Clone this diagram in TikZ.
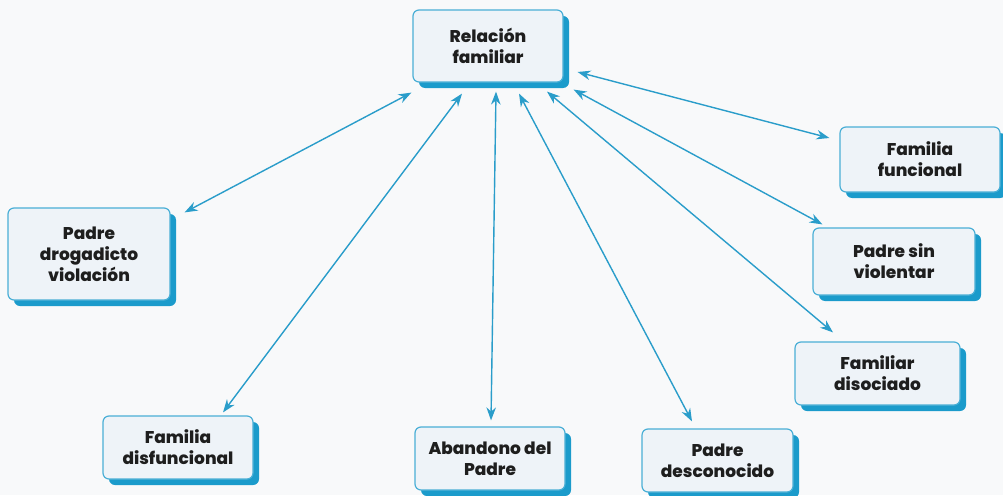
\documentclass[tikz,border=0pt]{standalone}
\usepackage{fontspec}
\setmainfont{Poppins}[BoldFont={* ExtraBold}]
\usetikzlibrary{arrows.meta,shadows}
\definecolor{bgc}{HTML}{F8F9FA}
\definecolor{boxfill}{HTML}{EEF3F8}
\definecolor{boxline}{HTML}{4AAFD6}
\definecolor{shadowc}{HTML}{1B9BCB}
\definecolor{linec}{HTML}{2A9DCA}
\definecolor{txt}{HTML}{1E1E1E}
\tikzset{
  box/.style={rectangle, rounded corners=6pt, draw=boxline, line width=1.2pt,
    fill=boxfill, align=center, inner sep=2pt, text=txt,
    font=\fontsize{17}{21}\selectfont\bfseries,
    drop shadow={shadow xshift=6pt, shadow yshift=-6pt, fill=shadowc, opacity=1}},
  conn/.style={draw=linec, line width=1.4pt,
    {Stealth[length=13pt,width=9.5pt]}-{Stealth[length=13pt,width=9.5pt]}}
}
\begin{document}
\begin{tikzpicture}[x=1pt,y=-1pt]
\fill[bgc] (0,0) rectangle (1003,495);
\useasboundingbox (0,0) rectangle (1003,495);

\node[box, minimum width=150, minimum height=72] (rel) at (488,46) {Relación\\familiar};
\node[box, minimum width=162, minimum height=92] (pd) at (89,254) {Padre\\drogadicto\\violación};
\node[box, minimum width=150, minimum height=63] (fdis) at (178,447.5) {Familia\\disfuncional};
\node[box, minimum width=150, minimum height=63] (aban) at (490,458.5) {Abandono del\\Padre};
\node[box, minimum width=151, minimum height=63] (pdes) at (717.5,460.5) {Padre\\desconocido};
\node[box, minimum width=165, minimum height=63] (fdiso) at (877.5,373.5) {Familiar\\disociado};
\node[box, minimum width=162, minimum height=67] (psv) at (894,261.5) {Padre sin\\violentar};
\node[box, minimum width=160, minimum height=65] (ffun) at (920,159.5) {Familia\\funcional};

\draw[conn] ([shift={(-1,10)}]rel.south west) -- ([shift={(14,5)}]pd.north east);
\draw[conn] ([shift={(-26,11)}]rel.south) -- ([shift={(45,-3)}]fdis.north);
\draw[conn] ([shift={(8,9)}]rel.south) -- ([shift={(1,-6)}]aban.north);
\draw[conn] ([shift={(31,11)}]rel.south) -- ([shift={(-25.5,-7)}]pdes.north);
\draw[conn] ([shift={(59,9)}]rel.south) -- ([shift={(-44.5,-9)}]fdiso.north);
\draw[conn] ([shift={(10,7)}]rel.south east) -- ([shift={(10,-3)}]psv.north west);
\draw[conn] ([shift={(14,26)}]rel.east) -- ([shift={(-10,-21.5)}]ffun.west);
\end{tikzpicture}
\end{document}
